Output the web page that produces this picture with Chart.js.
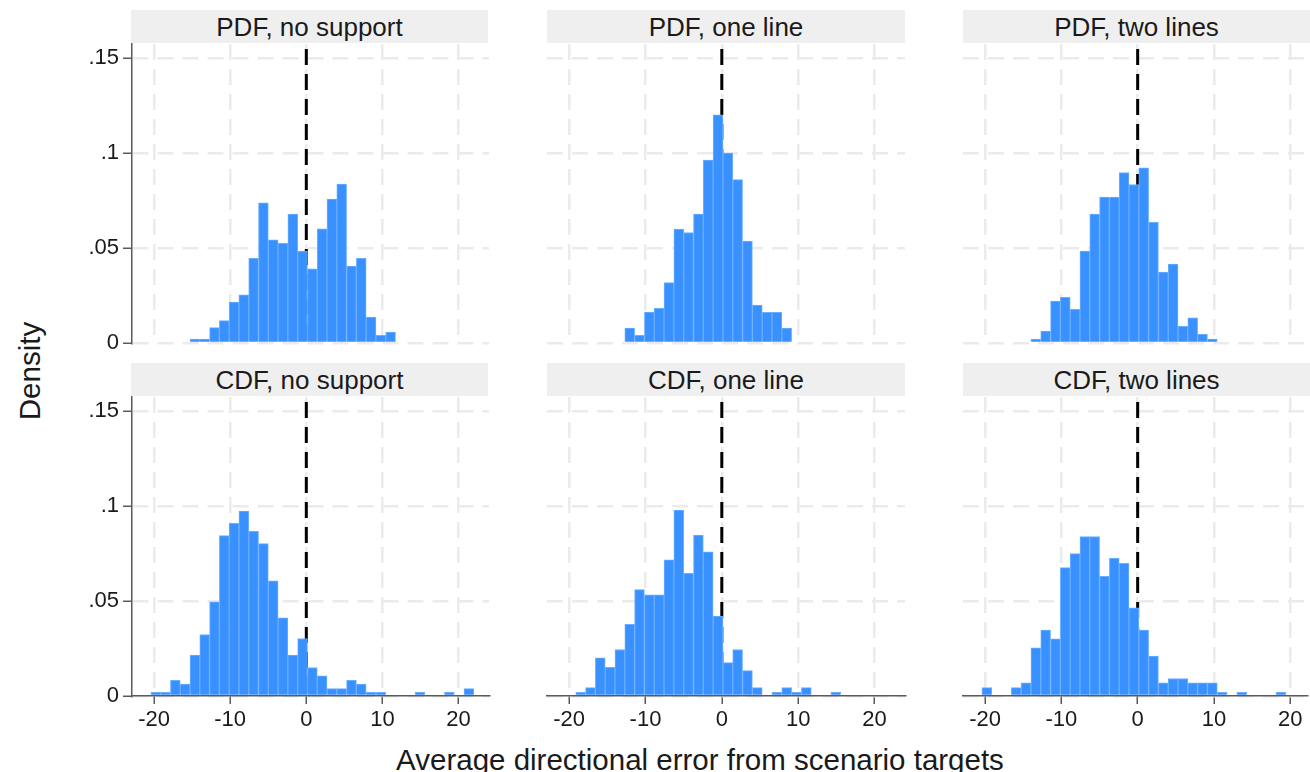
<!DOCTYPE html>
<html>
<head>
<meta charset="utf-8">
<script src="https://cdn.jsdelivr.net/npm/chart.js@4.4.0/dist/chart.umd.min.js"></script>
<style>
  body { margin: 0; background: #fff; font-family: 'Liberation Sans', Arial, sans-serif; }
  #wrap { position: relative; width: 1310px; height: 772px; overflow: hidden; }
  canvas { position: absolute; }
  .strip { position: absolute; height: 33px; line-height: 34px; background: #efefef; color: #1a1a1a; font-size: 26px; text-align: center; }
  .axis-title { position: absolute; color: #1a1a1a; font-size: 29.5px; white-space: nowrap; }
</style>
</head>
<body>
<div id="wrap"></div>
<script>
// common histogram bins (centres), same for all six panels
const binCenters = [-19.777, -18.492, -17.206, -15.921, -14.635, -13.350, -12.064, -10.779, -9.493, -8.208,
    -6.922, -5.637, -4.351, -3.066, -1.780, -0.495, 0.791, 2.076, 3.362, 4.647,
    5.933, 7.218, 8.504, 9.789, 11.075, 12.360, 13.646, 14.931, 16.217, 17.502,
    18.788, 20.073, 21.359];

// densities, one value per bin
const pdfNoSupport = [0, 0, 0, 0, .0021, .0021, .0081, .0118, .0216, .0254,
    .0446, .0739, .0544, .0525, .0679, .0484, .0391, .0602, .0758, .0837,
    .0405, .0446, .0137, .0040, .0058, 0, 0, 0, 0, 0,
    0, 0, 0];
const pdfOneLine = [0, 0, 0, 0, 0, 0, .0079, .0040, .0163, .0182,
    .0318, .0600, .0582, .0679, .0963, .1202, .1000, .0861, .0537, .0200,
    .0161, .0161, .0079, 0, 0, 0, 0, 0, 0, 0,
    0, 0, 0];
const pdfTwoLines = [0, 0, 0, 0, 0, .0021, .0063, .0221, .0240, .0177,
    .0484, .0679, .0768, .0768, .0898, .0835, .0923, .0635, .0374, .0416,
    .0088, .0132, .0046, .0021, 0, 0, 0, 0, 0, 0,
    0, 0, 0];
const cdfNoSupport = [.0019, .0019, .0083, .0063, .0215, .0324, .0496, .0845, .0910, .0974,
    .0868, .0803, .0607, .0412, .0215, .0303, .0150, .0106, .0039, .0039,
    .0083, .0063, .0019, .0019, 0, 0, 0, .0019, 0, 0,
    .0019, 0, .0039];
const cdfOneLine = [0, .0019, .0044, .0201, .0151, .0245, .0377, .0560, .0533, .0533,
    .0717, .0979, .0646, .0847, .0759, .0421, .0176, .0245, .0134, .0044,
    0, .0019, .0044, .0019, .0044, 0, 0, .0019, 0, 0,
    0, 0, 0];
const cdfTwoLines = [.0044, 0, 0, .0044, .0070, .0254, .0347, .0301, .0676, .0750,
    .0840, .0840, .0630, .0725, .0699, .0465, .0347, .0210, .0070, .0092,
    .0092, .0070, .0070, .0070, .0019, 0, .0019, 0, 0, 0,
    .0019, 0, 0];

const panelTitles = ['PDF, no support', 'PDF, one line', 'PDF, two lines',
    'CDF, no support', 'CDF, one line', 'CDF, two lines'];
const panelValues = [pdfNoSupport, pdfOneLine, pdfTwoLines, cdfNoSupport, cdfOneLine, cdfTwoLines];

const xTicks = [-20, -10, 0, 10, 20];
const yTicks = [0, 0.05, 0.1, 0.15];
const yTickLabels = ['0', '.05', '.1', '.15'];
const refLine = 0;

// layout of the 2x3 grid (plot areas in page pixels)
const colLeft = [132, 547, 963];
const colRight = [489, 905, 1307];
const rowTop = [44, 397];
const rowBottom = [343, 696];
const xMin = -22.9;
const xMax = [24.0, 24.0, 22.2];
const yMax = 0.1575;

const barFill = '#3891ff';
const barEdge = '#6aaeff';
const gridColor = '#ebebeb';
const axisColor = '#5a5a5a';
const textColor = '#1a1a1a';

const wrap = document.getElementById('wrap');

panelTitles.forEach((title, idx) => {
    const row = Math.floor(idx / 3);
    const col = idx % 3;
    const left = colLeft[col];
    const top = rowTop[row];
    const w = colRight[col] - left;
    const h = rowBottom[row] - top;
    const firstCol = col === 0;
    const lastRow = row === 1;

    const strip = document.createElement('div');
    strip.className = 'strip';
    strip.style.left = (col === 0 ? left - 1 : left) + 'px';
    strip.style.top = (top - 34) + 'px';
    strip.style.width = (col === 2 ? 1310 - left : w) + 'px';
    strip.innerText = title;
    wrap.appendChild(strip);

    const cv = document.createElement('canvas');
    cv.width = w + 80;
    cv.height = h + 65;
    cv.style.left = (left - 60) + 'px';
    cv.style.top = (top - 20) + 'px';
    cv.style.width = cv.width + 'px';
    cv.style.height = cv.height + 'px';
    wrap.appendChild(cv);

    const values = panelValues[idx];
    const bars = binCenters.map((x, i) => ({ x: x, y: values[i] > 0 ? values[i] : null }));

    new Chart(cv, {
        type: 'bar',
        data: {
            datasets: [
                {
                    type: 'bar',
                    data: bars,
                    backgroundColor: barFill,
                    borderColor: barEdge,
                    borderWidth: 1,
                    barPercentage: 1,
                    categoryPercentage: 1,
                    order: 0
                },
                {
                    type: 'line',
                    data: [{ x: refLine, y: yMax }, { x: refLine, y: 0 }],
                    borderColor: '#000',
                    borderWidth: 3,
                    borderDash: [16, 9],
                    borderDashOffset: 20,
                    pointRadius: 0,
                    fill: false,
                    order: 1
                }
            ]
        },
        options: {
            responsive: false,
            animation: false,
            devicePixelRatio: 1,
            layout: { padding: { top: 20, right: 20, left: 0, bottom: 0 } },
            plugins: { legend: { display: false }, tooltip: { enabled: false } },
            scales: {
                x: {
                    type: 'linear',
                    min: xMin,
                    max: xMax[col],
                    offset: false,
                    afterBuildTicks: axis => { axis.ticks = xTicks.map(v => ({ value: v })); },
                    afterFit: axis => { axis.height = 45; },
                    grid: {
                        color: gridColor,
                        lineWidth: 2.5,
                        offset: false,
                        drawTicks: lastRow,
                        tickLength: 8,
                        tickColor: axisColor,
                        tickWidth: 1.5
                    },
                    border: { display: lastRow, color: axisColor, width: 1.5, dash: [16, 9] },
                    ticks: {
                        display: lastRow,
                        padding: 3,
                        maxRotation: 0,
                        color: textColor,
                        font: { family: "'Liberation Sans', Arial", size: 22 }
                    }
                },
                y: {
                    min: 0,
                    max: yMax,
                    afterBuildTicks: axis => { axis.ticks = yTicks.map(v => ({ value: v })); },
                    afterFit: axis => { axis.width = 60; },
                    grid: {
                        color: gridColor,
                        lineWidth: 2.5,
                        drawTicks: firstCol,
                        tickLength: 9,
                        tickColor: axisColor,
                        tickWidth: 1.5
                    },
                    border: { display: firstCol, color: axisColor, width: 1.5, dash: [16, 9] },
                    ticks: {
                        display: firstCol,
                        padding: 4,
                        color: textColor,
                        font: { family: "'Liberation Sans', Arial", size: 22 },
                        callback: (v) => yTickLabels[yTicks.indexOf(v)]
                    }
                }
            }
        }
    });
});

// shared axis titles
const yTitle = document.createElement('div');
yTitle.className = 'axis-title';
yTitle.innerText = 'Density';
yTitle.style.left = '30px';
yTitle.style.top = '371px';
yTitle.style.transform = 'translate(-50%, -50%) rotate(-90deg)';
wrap.appendChild(yTitle);

const xTitle = document.createElement('div');
xTitle.className = 'axis-title';
xTitle.innerText = 'Average directional error from scenario targets';
xTitle.style.left = '300px';
xTitle.style.width = '800px';
xTitle.style.textAlign = 'center';
xTitle.style.top = '745px';
xTitle.style.lineHeight = '29px';
wrap.appendChild(xTitle);
</script>
</body>
</html>
